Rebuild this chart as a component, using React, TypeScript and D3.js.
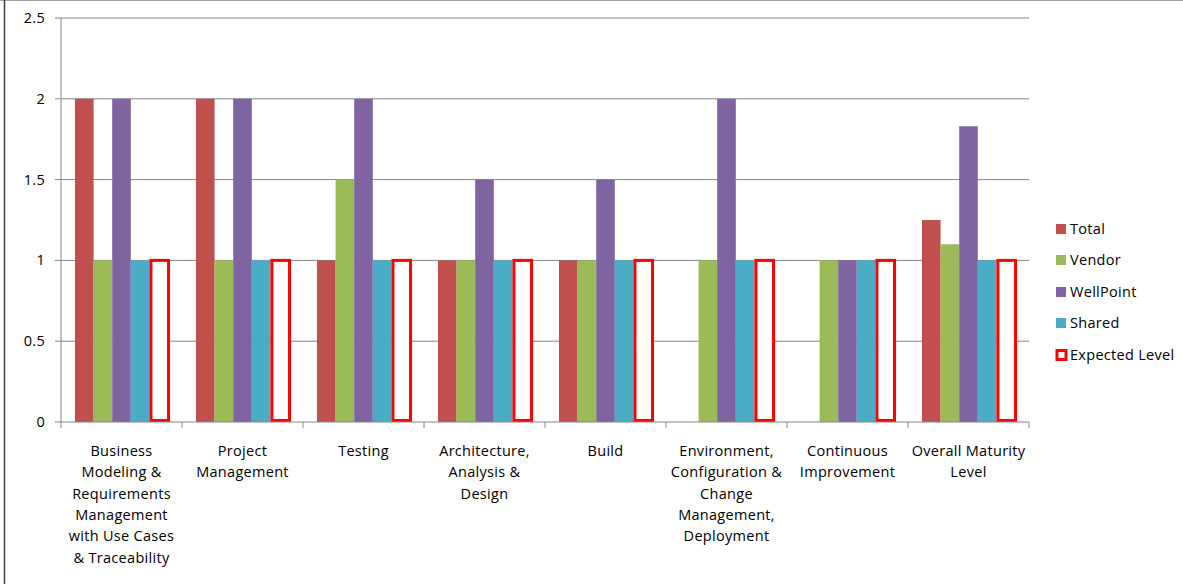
import React from "react";
import * as d3 from "d3";

const categories = [
  ["Business", "Modeling &", "Requirements", "Management", "with Use Cases", "& Traceability"],
  ["Project", "Management"],
  ["Testing"],
  ["Architecture,", "Analysis &", "Design"],
  ["Build"],
  ["Environment,", "Configuration &", "Change", "Management,", "Deployment"],
  ["Continuous", "Improvement"],
  ["Overall Maturity", "Level"],
];

const seriesNames = ["Total", "Vendor", "WellPoint", "Shared", "Expected Level"];
const totalValues = [2, 2, 1, 1, 1, 0, 0, 1.25];
const vendorValues = [1, 1, 1.5, 1, 1, 1, 1, 1.1];
const wellPointValues = [2, 2, 2, 1.5, 1.5, 2, 1, 1.83];
const sharedValues = [1, 1, 1, 1, 1, 1, 1, 1];
const expectedValues = [1, 1, 1, 1, 1, 1, 1, 1];
const yTicks = [0, 0.5, 1, 1.5, 2, 2.5];
const yTickLabels = ["0", "0.5", "1", "1.5", "2", "2.5"];

const colors = ["#C0504D", "#9BBB59", "#8064A2", "#4BACC6", "#FF0000"];

export default function App() {
  const W = 1183;
  const H = 584;
  const left = 61;
  const right = 1029;
  const top = 18;
  const bottom = 422;
  const font = "'Open Sans', Lato, sans-serif";
  const fs = 14.5;
  const ls = 0.3;

  const allValues = [totalValues, vendorValues, wellPointValues, sharedValues, expectedValues];
  const catIdx = categories.map((_, i) => String(i));
  const x0 = d3.scaleBand<string>().domain(catIdx).range([left, right]).padding(0);
  const x1 = d3
    .scaleBand<string>()
    .domain(seriesNames)
    .range([0, x0.bandwidth()])
    .paddingInner(0)
    .paddingOuter(0.75);
  const y = d3.scaleLinear().domain([0, 2.5]).range([bottom, top]);

  const legendY = [229, 260, 292, 323, 355];

  return (
    <svg
      width={W}
      height={H}
      style={{ position: "absolute", left: 0, top: 0, background: "#fff" }}
      fontFamily={font}
    >
      <rect x={0} y={0} width={W} height={H} fill="#fff" />
      <line x1={0} x2={W} y1={0.5} y2={0.5} stroke="#A6A6A6" strokeWidth={1} />
      <line x1={4.5} x2={4.5} y1={0} y2={H} stroke="#404040" strokeWidth={1.5} />

      {yTicks.map((t) => (
        <g key={"g" + t}>
          {t > 0 && (
            <line x1={left} x2={right} y1={y(t)} y2={y(t)} stroke="#868686" strokeWidth={1} />
          )}
          <line x1={left - 6} x2={left} y1={y(t)} y2={y(t)} stroke="#868686" strokeWidth={1} />
        </g>
      ))}
      {yTicks.map((t, i) => (
        <text
          key={"yl" + t}
          x={45}
          y={y(t)}
          dy="0.35em"
          textAnchor="end"
          fontSize={fs}
          letterSpacing={ls}
          fill="#000"
        >
          {yTickLabels[i]}
        </text>
      ))}

      {catIdx.map((c, ci) => (
        <g key={"c" + c} transform={`translate(${x0(c)},0)`}>
          {seriesNames.map((s, si) => {
            const v = allValues[si][ci];
            if (!v) return null;
            const bx = x1(s)!;
            const bw = x1.bandwidth();
            if (si === 4) {
              return (
                <rect
                  key={s}
                  x={bx + 1.5}
                  y={y(v)}
                  width={bw - 1}
                  height={y(0) - y(v) - 1.5}
                  fill="#fff"
                  stroke={colors[si]}
                  strokeWidth={3}
                />
              );
            }
            return (
              <rect
                key={s}
                x={bx}
                y={y(v)}
                width={bw}
                height={y(0) - y(v)}
                fill={colors[si]}
              />
            );
          })}
        </g>
      ))}

      <line x1={left} x2={left} y1={top} y2={bottom} stroke="#868686" strokeWidth={1} />
      <line x1={left} x2={right} y1={bottom} y2={bottom} stroke="#868686" strokeWidth={1} />
      {catIdx.concat([String(categories.length)]).map((c, i) => {
        const xx = left + i * x0.step();
        return (
          <line key={"xt" + i} x1={xx} x2={xx} y1={bottom} y2={bottom + 6} stroke="#868686" strokeWidth={1} />
        );
      })}

      {categories.map((lines, ci) => {
        const cx = x0(String(ci))! + x0.bandwidth() / 2;
        return (
          <text key={"cl" + ci} x={cx} y={451} textAnchor="middle" fontSize={fs} letterSpacing={ls} fill="#000">
            {lines.map((ln, li) => (
              <tspan key={li} x={cx} y={451 + li * 21.3} dy="0.35em">
                {ln}
              </tspan>
            ))}
          </text>
        );
      })}

      {seriesNames.map((s, si) => (
        <g key={"lg" + s}>
          {si === 4 ? (
            <rect
              x={1057}
              y={legendY[si] - 4.5}
              width={9}
              height={9}
              fill="#fff"
              stroke={colors[si]}
              strokeWidth={3}
            />
          ) : (
            <rect x={1056} y={legendY[si] - 5} width={10} height={10} fill={colors[si]} />
          )}
          <text x={1070} y={legendY[si]} dy="0.35em" fontSize={fs} letterSpacing={ls} fill="#000">
            {s}
          </text>
        </g>
      ))}
    </svg>
  );
}
